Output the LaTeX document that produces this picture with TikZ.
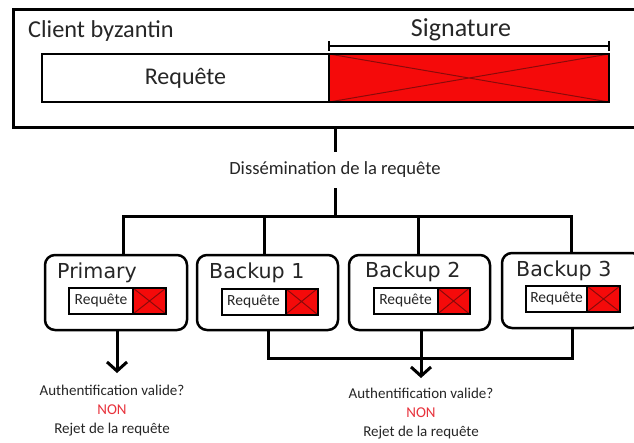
\documentclass[tikz,border=0pt]{standalone}
\usepackage{fontspec}
\setmainfont{Carlito}
\newfontfamily\dvs{DejaVu Sans}
\usetikzlibrary{arrows.meta}
\definecolor{sigred}{HTML}{F50A0A}
\definecolor{xred}{HTML}{8A0A0A}
\definecolor{nonred}{HTML}{E8323C}
\definecolor{txt}{HTML}{262626}
\tikzset{
  conn/.style={line width=3pt, draw=black},
  arr/.style={conn, -{Straight Barb[length=9pt,width=20pt]}},
  reqbox/.style={draw, fill=white, inner sep=0pt, text=txt},
  sigbox/.style={draw, fill=sigred, inner sep=0pt,
    path picture={\draw[xred, line width=1pt]
      (path picture bounding box.north west) -- (path picture bounding box.south east)
      (path picture bounding box.south west) -- (path picture bounding box.north east);}},
  server/.style={draw, rounded corners=10pt, line width=2.5pt, inner sep=0pt},
  srvlabel/.style={anchor=base west, inner sep=0pt, font=\dvs\fontsize{20.6}{24}\selectfont, text=txt},
  small/.style={line width=2pt, minimum height=26pt, font=\fontsize{15.5}{18}\selectfont},
  result/.style={align=center, inner sep=0pt, text=txt, font=\fontsize{15}{19}\selectfont},
}
\begin{document}
\begin{tikzpicture}[x=1pt,y=-1pt]
\useasboundingbox (0,0) rectangle (634,442);
\clip (0,0) rectangle (634,442);
\fill[white] (0,0) rectangle (634,442);

% client box
\node[draw, line width=3pt, minimum width=640pt, minimum height=118pt, anchor=north west, inner sep=0pt] (client) at (11.5,8) {};
\node[anchor=west, inner sep=0pt, text=txt, font=\fontsize{24.3}{28}\selectfont] (cname) at (28,31) {Client byzantin};
\node[reqbox, line width=2.5pt, minimum width=287pt, minimum height=48pt, font=\fontsize{24}{28}\selectfont] (breq) at (185.5,78) {Requête};
\node[sigbox, line width=2.5pt, minimum width=280pt, minimum height=48pt] (bsig) at (469,78) {};
\draw[line width=2pt, {Bar[width=10pt]}-{Bar[width=10pt]}] ([yshift=7pt]bsig.north west) -- ([yshift=7pt]bsig.north east);
\node[inner sep=0pt, text=txt, font=\fontsize{26}{30}\selectfont] (signame) at (461,30) {Signature};

% dissemination
\node[inner sep=0pt, minimum height=36pt, text=txt, font=\fontsize{18.6}{22}\selectfont] (diss) at (335,170) {Dissémination de la requête};
\draw[conn] (diss.north |- client.south) -- (diss.north);
\coordinate (bus) at (335,216);
\draw[conn] (diss.south) -- (bus);
\coordinate (t0) at (123,216);
\coordinate (t1) at (264,216);
\coordinate (t2) at (418,216);
\coordinate (t3) at (571,216);

% servers
\node[server, minimum width=142pt, minimum height=75pt] (prim) at (116,292.5) {};
\node[server, minimum width=141pt, minimum height=75pt] (b1) at (267.5,292.5) {};
\node[server, minimum width=141pt, minimum height=75pt] (b2) at (419.5,292.5) {};
\node[server, minimum width=140pt, minimum height=75pt] (b3) at (572,290.5) {};

\draw[conn] (t0 |- prim.north) -- (t0) -- (t3) -- (t3 |- b3.north);
\draw[conn] (t1) -- (t1 |- b1.north);
\draw[conn] (t2) -- (t2 |- b2.north);

\node[srvlabel] (lp) at (57,278) {Primary};
\node[srvlabel] (l1) at (209,278) {Backup 1};
\node[srvlabel] (l2) at (365,277) {Backup 2};
\node[srvlabel] (l3) at (516,276) {Backup 3};

\node[reqbox, small, minimum width=64pt] (rq0) at (101,301) {Requête};
\node[sigbox, small, minimum width=33pt] (sg0) at (149.5,301) {};
\node[reqbox, small, minimum width=64pt] (rq1) at (253.5,301.5) {Requête};
\node[sigbox, small, minimum width=32pt] (sg1) at (301.5,301.5) {};
\node[reqbox, small, minimum width=64pt] (rq2) at (405.5,301) {Requête};
\node[sigbox, small, minimum width=32pt] (sg2) at (453.5,301) {};
\node[reqbox, small, minimum width=61pt] (rq3) at (556.5,299) {Requête};
\node[sigbox, small, minimum width=33pt] (sg3) at (603.5,299) {};

% primary result
\coordinate (a1) at (117,373);
\draw[arr] (a1 |- prim.south) -- (a1);
\node[result] (res1) at (112,411) {Authentification valide?\\\textcolor{nonred}{NON}\\Rejet de la requête};

% backups result
\coordinate (j1) at (268,358);
\draw[conn] (j1 |- b1.south) -- (j1) -- (j1 -| b3.south) -- (b3.south);
\coordinate (a2) at (421,378);
\draw[arr] (a2 |- b2.south) -- (a2);
\node[result] (res2) at (421,414) {Authentification valide?\\\textcolor{nonred}{NON}\\Rejet de la requête};
\end{tikzpicture}
\end{document}
